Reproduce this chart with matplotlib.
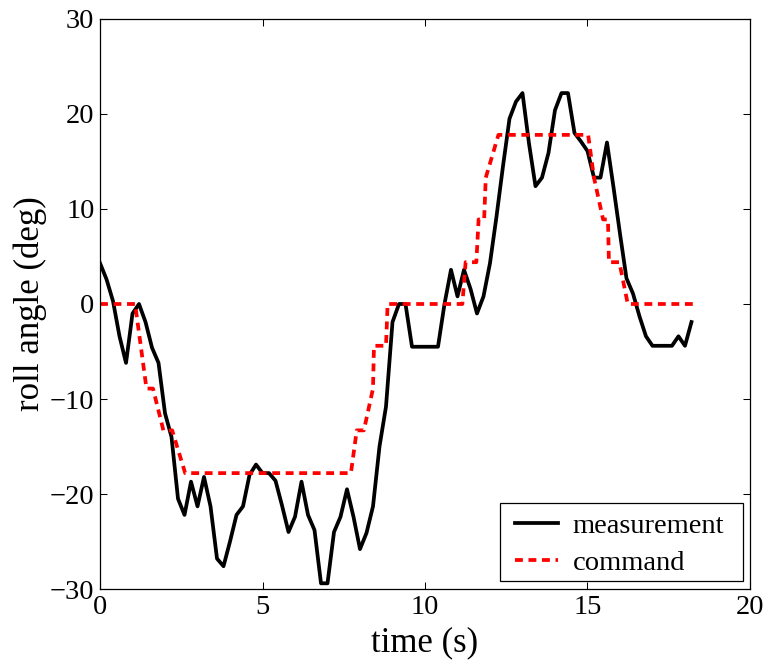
import numpy as np
import matplotlib.pyplot as plt
from matplotlib.patches import Rectangle

plt.rcParams['font.family'] = ['Liberation Serif', 'DejaVu Serif']

# measured roll angle, sampled every 0.2 s
t_meas = np.arange(92) * 0.2
roll_meas = [4.3, 2.6, 0.3, -3.4, -6.2, -1.0, 0.0, -1.9, -4.6, -6.2,
             -11.5, -14.0, -20.5, -22.2, -18.7, -21.3, -18.2, -21.3, -26.8, -27.6,
             -25.0, -22.2, -21.3, -18.0, -16.9, -17.8, -17.8, -18.6, -21.2, -24.0,
             -22.4, -18.7, -22.2, -23.8, -29.4, -29.4, -24.0, -22.4, -19.5, -22.4,
             -25.8, -24.1, -21.3, -15.0, -10.8, -1.9, 0.0, 0.0, -4.5, -4.5,
             -4.5, -4.5, -4.5, 0.0, 3.6, 0.8, 3.6, 1.6, -1.0, 0.8,
             4.3, 9.2, 14.5, 19.5, 21.3, 22.2, 16.9, 12.4, 13.3, 15.9,
             20.4, 22.2, 22.2, 18.0, 17.1, 16.1, 13.3, 13.3, 17.0, 12.3,
             7.4, 2.7, 1.1, -1.3, -3.4, -4.4, -4.4, -4.4, -4.4, -3.4,
             -4.4, -1.9]

# commanded roll angle (piecewise steps)
t_cmd = [0, 1.08, 1.43, 1.63, 1.95, 2.22, 2.62, 7.72, 7.9, 8.12, 8.4, 8.43,
         8.8, 8.85, 11.15, 11.25, 11.58, 11.65, 11.82, 11.87, 12.26, 15.02,
         15.2, 15.48, 15.63, 15.66, 15.98, 16.24, 18.4]
roll_cmd = [0, 0, -8.9, -8.9, -13.3, -13.3, -17.8, -17.8, -13.3, -13.3, -8.9, -4.4,
            -4.4, 0, 0, 4.4, 4.4, 8.9, 8.9, 13.3, 17.8, 17.8,
            13.3, 8.9, 8.9, 4.4, 4.4, 0, 0]

fig = plt.figure(figsize=(7.67, 6.61), dpi=100)
ax = fig.add_axes([0.1304, 0.1089, 0.8474, 0.8624])

ax.plot(t_meas, roll_meas, color='black', lw=2.7, label='measurement')
ax.plot(t_cmd, roll_cmd, color='red', lw=2.7, dashes=(2.1, 1.5), label='command')

ax.set_xlim(0, 20)
ax.set_ylim(-30, 30)
ax.set_xticks([0, 5, 10, 15, 20])
ax.set_yticks([-30, -20, -10, 0, 10, 20, 30])
ax.tick_params(direction='in', length=5, width=0.75, top=True, right=True,
               labelsize=20.5, pad=4)
for s in ax.spines.values():
    s.set_linewidth(0.9)

ax.set_xlabel('time (s)', fontsize=25, labelpad=5)
ax.set_ylabel('roll angle (deg)', fontsize=25, labelpad=2)

# legend entries without frame, box drawn separately
ax.legend(loc='upper left', bbox_to_anchor=(0.6385, 0.1333), borderaxespad=0,
          borderpad=0, frameon=False, fontsize=20.5, handlelength=1.5,
          labelspacing=0.38, handletextpad=0.53)
ax.add_patch(Rectangle((0.6154, 0.014), 0.3738, 0.1369, transform=ax.transAxes,
                       facecolor='none', edgecolor='black', lw=0.9, zorder=5))

fig.savefig('out.png', dpi=100)
